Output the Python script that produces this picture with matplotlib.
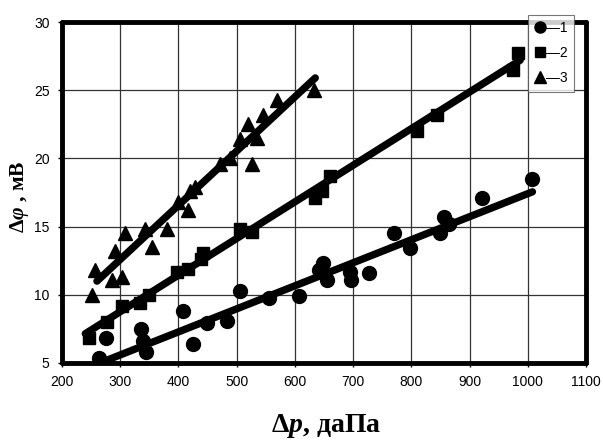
import matplotlib
matplotlib.use("Agg")
import matplotlib.pyplot as plt
from matplotlib.lines import Line2D

# series 1 (circles)
circ_x = [263, 276, 335, 339, 344, 408, 425, 449, 483, 506, 555, 607,
          641, 649, 655, 695, 697, 727, 771, 797, 850, 856, 864, 921, 1008]
circ_y = [5.4, 6.8, 7.5, 6.6, 5.8, 8.8, 6.4, 7.9, 8.1, 10.3, 9.8, 9.9,
          11.8, 12.3, 11.1, 11.7, 11.1, 11.6, 14.5, 13.4, 14.5, 15.7, 15.2, 17.1, 18.5]

# series 2 (squares)
sq_x = [246, 277, 303, 334, 349, 397, 417, 438, 443, 506, 526,
        635, 647, 661, 810, 844, 975, 984]
sq_y = [6.8, 8.0, 9.15, 9.4, 10.0, 11.7, 11.9, 12.6, 13.1, 14.8, 14.6,
        17.1, 17.6, 18.7, 22.0, 23.2, 26.5, 27.7]

# series 3 (triangles)
tri_x = [251, 257, 286, 303, 291, 309, 343, 354, 380, 400, 417,
         420, 429, 472, 489, 506, 520, 526, 535, 546, 569, 632]
tri_y = [10.0, 11.8, 11.1, 11.3, 13.2, 14.5, 14.8, 13.5, 14.8, 16.8, 16.2,
         17.6, 17.9, 19.6, 20.0, 21.4, 22.5, 19.6, 21.5, 23.2, 24.3, 25.0]

# trend line endpoints
fit1_x, fit1_y = [262, 1008], [4.95, 17.55]
fit2_x, fit2_y = [240, 987], [7.15, 27.2]
fit3_x, fit3_y = [260, 635], [11.0, 25.9]

plt.rcParams["mathtext.fontset"] = "custom"
plt.rcParams["mathtext.rm"] = "Liberation Serif:bold"
plt.rcParams["mathtext.it"] = "Liberation Serif:italic:bold"
plt.rcParams["mathtext.bf"] = "Liberation Serif:bold"

fig = plt.figure(figsize=(6.03, 4.40), dpi=100)
ax = fig.add_axes([62 / 603, 1 - 363 / 440, 524 / 603, 341 / 440])

for fx, fy in [(fit1_x, fit1_y), (fit2_x, fit2_y), (fit3_x, fit3_y)]:
    ax.plot(fx, fy, color="black", lw=5.3, solid_capstyle="round", zorder=3)

ax.plot(circ_x, circ_y, "o", color="black", ms=10, zorder=4)
ax.plot(sq_x, sq_y, "s", color="black", ms=9, zorder=4)
ax.plot(tri_x, tri_y, "^", color="black", ms=10, zorder=4)

ax.set_xlim(200, 1100)
ax.set_ylim(5, 30)
ax.set_xticks(range(200, 1101, 100))
ax.set_yticks(range(5, 31, 5))
ax.grid(True, color="#333333", lw=0.9)
ax.set_axisbelow(True)
for sp in ax.spines.values():
    sp.set_linewidth(3.5)
    sp.set_capstyle("round")
ax.tick_params(direction="out", length=3, width=1, labelsize=10, pad=6)
for lab in ax.get_xticklabels() + ax.get_yticklabels():
    lab.set_family("Liberation Sans")

ax.set_xlabel(r"$\Delta\mathit{p}$, даПа", family="Liberation Serif",
              fontweight="bold", fontsize=20)
ax.xaxis.set_label_coords(0.504, -0.145)
ax.set_ylabel(r"$\Delta\mathit{\varphi}$ , мВ", family="Liberation Serif",
              fontweight="bold", fontsize=15.5)
ax.yaxis.set_label_coords(-0.06, 0.487)

handles = [Line2D([], [], ls="none", marker=m, color="black", ms=ms)
           for m, ms in [("o", 8), ("s", 7), ("^", 8)]]
leg = ax.legend(handles, ["\u20141", "\u20142", "\u20143"], loc="upper right",
                bbox_to_anchor=(0.977, 1.021), borderaxespad=0,
                fancybox=False, handlelength=0.8, handletextpad=0.05,
                labelspacing=0.8, borderpad=0.45,
                prop={"family": "Liberation Sans", "size": 10})
leg.get_frame().set_edgecolor("#555555")
leg.get_frame().set_linewidth(0.8)
leg.set_zorder(10)

fig.savefig("out.png", dpi=100)
